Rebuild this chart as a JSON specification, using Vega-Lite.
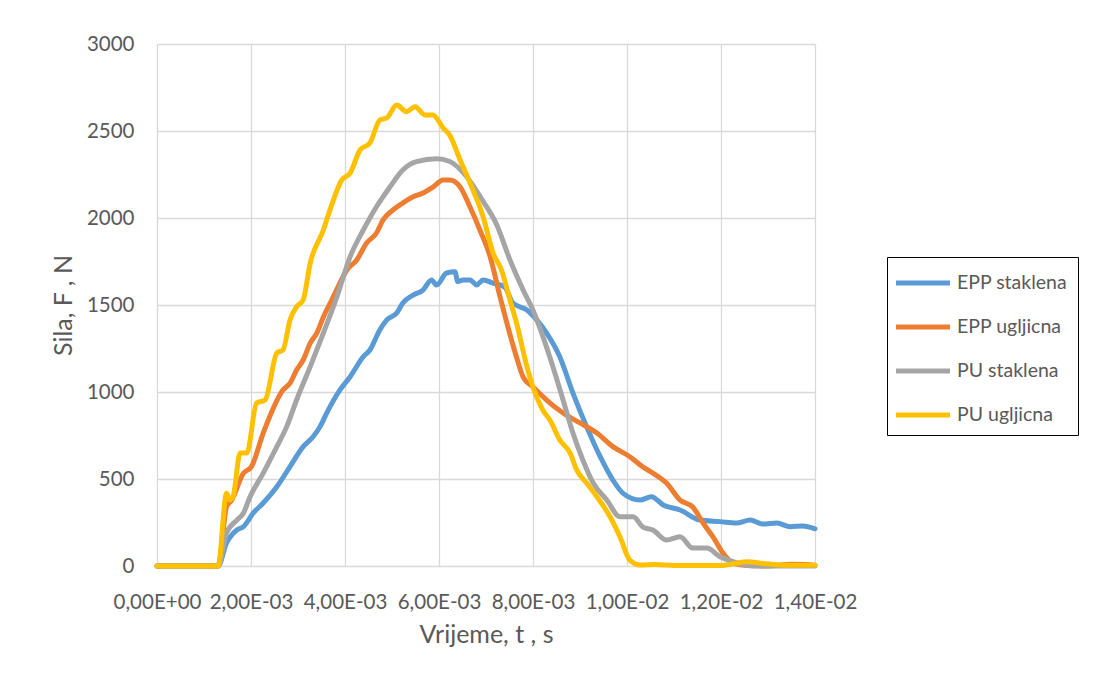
{
  "$schema": "https://vega.github.io/schema/vega-lite/v6.json",
  "autosize": {"type": "none"},
  "padding": {"left": 157, "top": 44, "right": 278, "bottom": 110},
  "width": 658,
  "height": 522,
  "background": "white",
  "config": {
    "font": "Lato",
    "view": {"stroke": null},
    "axis": {"labelColor": "#595959", "titleColor": "#595959", "labelFontSize": 20.5, "titleFontSize": 25, "titleFontWeight": "normal", "gridColor": "#d9d9d9", "gridWidth": 1.3, "domain": false, "ticks": false, "labelFont": "Lato", "titleFont": "Lato", "labelOverlap": false, "labelFlush": false, "labelBound": false}
  },
  "data": {"values": [
    {"s":"EPP staklena","t":0,"F":0},{"s":"EPP staklena","t":0.0013,"F":0},{"s":"EPP staklena","t":0.00148,"F":132},{"s":"EPP staklena","t":0.0017,"F":207},{"s":"EPP staklena","t":0.00184,"F":226},{"s":"EPP staklena","t":0.00205,"F":305},{"s":"EPP staklena","t":0.00226,"F":362},{"s":"EPP staklena","t":0.00255,"F":456},{"s":"EPP staklena","t":0.00283,"F":571},{"s":"EPP staklena","t":0.00311,"F":686},{"s":"EPP staklena","t":0.00332,"F":743},{"s":"EPP staklena","t":0.00347,"F":801},{"s":"EPP staklena","t":0.00361,"F":879},{"s":"EPP staklena","t":0.00389,"F":1011},{"s":"EPP staklena","t":0.00411,"F":1088},{"s":"EPP staklena","t":0.00439,"F":1203},{"s":"EPP staklena","t":0.00453,"F":1241},{"s":"EPP staklena","t":0.00474,"F":1356},{"s":"EPP staklena","t":0.00489,"F":1414},{"s":"EPP staklena","t":0.0051,"F":1454},{"s":"EPP staklena","t":0.00523,"F":1511},{"s":"EPP staklena","t":0.00545,"F":1557},{"s":"EPP staklena","t":0.00566,"F":1586},{"s":"EPP staklena","t":0.00584,"F":1644},{"s":"EPP staklena","t":0.00595,"F":1615},{"s":"EPP staklena","t":0.00616,"F":1684},{"s":"EPP staklena","t":0.00634,"F":1691},{"s":"EPP staklena","t":0.0064,"F":1634},{"s":"EPP staklena","t":0.00651,"F":1644},{"s":"EPP staklena","t":0.00666,"F":1644},{"s":"EPP staklena","t":0.0068,"F":1615},{"s":"EPP staklena","t":0.00694,"F":1644},{"s":"EPP staklena","t":0.00715,"F":1626},{"s":"EPP staklena","t":0.0074,"F":1603},{"s":"EPP staklena","t":0.00757,"F":1511},{"s":"EPP staklena","t":0.00787,"F":1471},{"s":"EPP staklena","t":0.00808,"F":1414},{"s":"EPP staklena","t":0.00829,"F":1339},{"s":"EPP staklena","t":0.00857,"F":1203},{"s":"EPP staklena","t":0.00885,"F":994},{"s":"EPP staklena","t":0.00914,"F":801},{"s":"EPP staklena","t":0.00943,"F":628},{"s":"EPP staklena","t":0.0097,"F":494},{"s":"EPP staklena","t":0.00991,"F":419},{"s":"EPP staklena","t":0.01028,"F":379},{"s":"EPP staklena","t":0.01052,"F":398},{"s":"EPP staklena","t":0.01077,"F":351},{"s":"EPP staklena","t":0.01113,"F":322},{"s":"EPP staklena","t":0.01155,"F":264},{"s":"EPP staklena","t":0.01198,"F":255},{"s":"EPP staklena","t":0.01233,"F":247},{"s":"EPP staklena","t":0.01262,"F":264},{"s":"EPP staklena","t":0.01289,"F":241},{"s":"EPP staklena","t":0.01319,"F":247},{"s":"EPP staklena","t":0.01347,"F":226},{"s":"EPP staklena","t":0.01374,"F":230},{"s":"EPP staklena","t":0.014,"F":214},

    {"s":"EPP ugljicna","t":0,"F":0},{"s":"EPP ugljicna","t":0.0013,"F":0},{"s":"EPP ugljicna","t":0.00148,"F":341},{"s":"EPP ugljicna","t":0.00159,"F":379},{"s":"EPP ugljicna","t":0.00184,"F":534},{"s":"EPP ugljicna","t":0.00201,"F":571},{"s":"EPP ugljicna","t":0.00226,"F":764},{"s":"EPP ugljicna","t":0.00268,"F":1011},{"s":"EPP ugljicna","t":0.00283,"F":1051},{"s":"EPP ugljicna","t":0.00297,"F":1126},{"s":"EPP ugljicna","t":0.00311,"F":1184},{"s":"EPP ugljicna","t":0.00326,"F":1281},{"s":"EPP ugljicna","t":0.0034,"F":1339},{"s":"EPP ugljicna","t":0.00354,"F":1431},{"s":"EPP ugljicna","t":0.00372,"F":1529},{"s":"EPP ugljicna","t":0.00382,"F":1586},{"s":"EPP ugljicna","t":0.00404,"F":1701},{"s":"EPP ugljicna","t":0.00425,"F":1759},{"s":"EPP ugljicna","t":0.00446,"F":1856},{"s":"EPP ugljicna","t":0.00467,"F":1914},{"s":"EPP ugljicna","t":0.00481,"F":1989},{"s":"EPP ugljicna","t":0.00502,"F":2046},{"s":"EPP ugljicna","t":0.00523,"F":2086},{"s":"EPP ugljicna","t":0.00545,"F":2122},{"s":"EPP ugljicna","t":0.00566,"F":2144},{"s":"EPP ugljicna","t":0.00587,"F":2178},{"s":"EPP ugljicna","t":0.00609,"F":2218},{"s":"EPP ugljicna","t":0.00623,"F":2218},{"s":"EPP ugljicna","t":0.00645,"F":2178},{"s":"EPP ugljicna","t":0.00666,"F":2063},{"s":"EPP ugljicna","t":0.00687,"F":1931},{"s":"EPP ugljicna","t":0.00709,"F":1776},{"s":"EPP ugljicna","t":0.0073,"F":1546},{"s":"EPP ugljicna","t":0.00744,"F":1400},{"s":"EPP ugljicna","t":0.00765,"F":1200},{"s":"EPP ugljicna","t":0.00779,"F":1086},{"s":"EPP ugljicna","t":0.008,"F":1029},{"s":"EPP ugljicna","t":0.00829,"F":954},{"s":"EPP ugljicna","t":0.00864,"F":879},{"s":"EPP ugljicna","t":0.009,"F":822},{"s":"EPP ugljicna","t":0.00936,"F":764},{"s":"EPP ugljicna","t":0.0097,"F":686},{"s":"EPP ugljicna","t":0.01006,"F":628},{"s":"EPP ugljicna","t":0.01034,"F":569},{"s":"EPP ugljicna","t":0.01055,"F":534},{"s":"EPP ugljicna","t":0.01084,"F":477},{"s":"EPP ugljicna","t":0.01113,"F":379},{"s":"EPP ugljicna","t":0.0114,"F":339},{"s":"EPP ugljicna","t":0.01162,"F":247},{"s":"EPP ugljicna","t":0.01183,"F":167},{"s":"EPP ugljicna","t":0.01204,"F":75},{"s":"EPP ugljicna","t":0.01226,"F":17},{"s":"EPP ugljicna","t":0.0126,"F":3},{"s":"EPP ugljicna","t":0.013,"F":0},{"s":"EPP ugljicna","t":0.0135,"F":10},{"s":"EPP ugljicna","t":0.0138,"F":8},{"s":"EPP ugljicna","t":0.014,"F":5},

    {"s":"PU staklena","t":0,"F":0},{"s":"PU staklena","t":0.0013,"F":0},{"s":"PU staklena","t":0.00148,"F":190},{"s":"PU staklena","t":0.0017,"F":264},{"s":"PU staklena","t":0.00184,"F":305},{"s":"PU staklena","t":0.00198,"F":398},{"s":"PU staklena","t":0.00226,"F":534},{"s":"PU staklena","t":0.00255,"F":686},{"s":"PU staklena","t":0.00276,"F":801},{"s":"PU staklena","t":0.00297,"F":954},{"s":"PU staklena","t":0.00326,"F":1146},{"s":"PU staklena","t":0.00354,"F":1339},{"s":"PU staklena","t":0.00382,"F":1540},{"s":"PU staklena","t":0.00411,"F":1778},{"s":"PU staklena","t":0.00439,"F":1931},{"s":"PU staklena","t":0.00467,"F":2065},{"s":"PU staklena","t":0.00496,"F":2180},{"s":"PU staklena","t":0.00523,"F":2276},{"s":"PU staklena","t":0.00552,"F":2324},{"s":"PU staklena","t":0.00595,"F":2340},{"s":"PU staklena","t":0.00623,"F":2325},{"s":"PU staklena","t":0.00659,"F":2237},{"s":"PU staklena","t":0.00694,"F":2095},{"s":"PU staklena","t":0.00723,"F":1960},{"s":"PU staklena","t":0.00751,"F":1759},{"s":"PU staklena","t":0.00779,"F":1586},{"s":"PU staklena","t":0.008,"F":1470},{"s":"PU staklena","t":0.00821,"F":1320},{"s":"PU staklena","t":0.00843,"F":1140},{"s":"PU staklena","t":0.00864,"F":954},{"s":"PU staklena","t":0.00885,"F":764},{"s":"PU staklena","t":0.00906,"F":609},{"s":"PU staklena","t":0.00928,"F":477},{"s":"PU staklena","t":0.00957,"F":379},{"s":"PU staklena","t":0.00985,"F":283},{"s":"PU staklena","t":0.01013,"F":283},{"s":"PU staklena","t":0.01034,"F":224},{"s":"PU staklena","t":0.01055,"F":207},{"s":"PU staklena","t":0.01084,"F":149},{"s":"PU staklena","t":0.01113,"F":168},{"s":"PU staklena","t":0.0114,"F":103},{"s":"PU staklena","t":0.0117,"F":103},{"s":"PU staklena","t":0.01198,"F":53},{"s":"PU staklena","t":0.01226,"F":25},{"s":"PU staklena","t":0.01268,"F":0},{"s":"PU staklena","t":0.014,"F":0},

    {"s":"PU ugljicna","t":0,"F":0},{"s":"PU ugljicna","t":0.0013,"F":0},{"s":"PU ugljicna","t":0.00148,"F":418},{"s":"PU ugljicna","t":0.00155,"F":379},{"s":"PU ugljicna","t":0.00162,"F":400},{"s":"PU ugljicna","t":0.00177,"F":649},{"s":"PU ugljicna","t":0.00191,"F":649},{"s":"PU ugljicna","t":0.00212,"F":937},{"s":"PU ugljicna","t":0.0023,"F":954},{"s":"PU ugljicna","t":0.00255,"F":1224},{"s":"PU ugljicna","t":0.00268,"F":1241},{"s":"PU ugljicna","t":0.00283,"F":1414},{"s":"PU ugljicna","t":0.00297,"F":1490},{"s":"PU ugljicna","t":0.00311,"F":1529},{"s":"PU ugljicna","t":0.00326,"F":1741},{"s":"PU ugljicna","t":0.00354,"F":1931},{"s":"PU ugljicna","t":0.00368,"F":2046},{"s":"PU ugljicna","t":0.00393,"F":2218},{"s":"PU ugljicna","t":0.00411,"F":2258},{"s":"PU ugljicna","t":0.00432,"F":2391},{"s":"PU ugljicna","t":0.00453,"F":2431},{"s":"PU ugljicna","t":0.00474,"F":2563},{"s":"PU ugljicna","t":0.00489,"F":2575},{"s":"PU ugljicna","t":0.0051,"F":2649},{"s":"PU ugljicna","t":0.00531,"F":2611},{"s":"PU ugljicna","t":0.00549,"F":2640},{"s":"PU ugljicna","t":0.0057,"F":2592},{"s":"PU ugljicna","t":0.00587,"F":2592},{"s":"PU ugljicna","t":0.00609,"F":2517},{"s":"PU ugljicna","t":0.00623,"F":2475},{"s":"PU ugljicna","t":0.00645,"F":2333},{"s":"PU ugljicna","t":0.00666,"F":2201},{"s":"PU ugljicna","t":0.00694,"F":2006},{"s":"PU ugljicna","t":0.00715,"F":1799},{"s":"PU ugljicna","t":0.00733,"F":1701},{"s":"PU ugljicna","t":0.00751,"F":1529},{"s":"PU ugljicna","t":0.00765,"F":1396},{"s":"PU ugljicna","t":0.00787,"F":1146},{"s":"PU ugljicna","t":0.008,"F":1029},{"s":"PU ugljicna","t":0.00821,"F":896},{"s":"PU ugljicna","t":0.00836,"F":839},{"s":"PU ugljicna","t":0.00857,"F":724},{"s":"PU ugljicna","t":0.00879,"F":649},{"s":"PU ugljicna","t":0.00893,"F":552},{"s":"PU ugljicna","t":0.00914,"F":477},{"s":"PU ugljicna","t":0.00936,"F":398},{"s":"PU ugljicna","t":0.00964,"F":283},{"s":"PU ugljicna","t":0.00985,"F":168},{"s":"PU ugljicna","t":0.01006,"F":34},{"s":"PU ugljicna","t":0.01028,"F":6},{"s":"PU ugljicna","t":0.0106,"F":8},{"s":"PU ugljicna","t":0.011,"F":3},{"s":"PU ugljicna","t":0.012,"F":3},{"s":"PU ugljicna","t":0.0123,"F":15},{"s":"PU ugljicna","t":0.01255,"F":25},{"s":"PU ugljicna","t":0.0129,"F":15},{"s":"PU ugljicna","t":0.0133,"F":5},{"s":"PU ugljicna","t":0.014,"F":5}
  ]},
  "mark": {"type": "line", "strokeWidth": 5, "strokeCap": "round", "strokeJoin": "round", "interpolate": "monotone"},
  "encoding": {
    "x": {"field": "t", "type": "quantitative", "scale": {"domain": [0, 0.014], "nice": false, "zero": false},
      "axis": {"values": [0, 0.002, 0.004, 0.006, 0.008, 0.01, 0.012, 0.014], "title": "Vrijeme, t , s", "labelPadding": 26, "titlePadding": 10,
        "labelExpr": "datum.value == 0 ? '0,00E+00' : (datum.value < 0.0099 ? replace(format(datum.value*1000, '.2f'), '.', ',') + 'E-03' : replace(format(datum.value*100, '.2f'), '.', ',') + 'E-02')"}},
    "y": {"field": "F", "type": "quantitative", "scale": {"domain": [0, 3000], "nice": false},
      "axis": {"values": [0, 500, 1000, 1500, 2000, 2500, 3000], "format": "d", "title": "Sila, F , N", "labelPadding": 23, "titlePadding": 10}},
    "color": {"field": "s", "type": "nominal",
      "scale": {"domain": ["EPP staklena", "EPP ugljicna", "PU staklena", "PU ugljicna"], "range": ["#5B9BD5", "#ED7D31", "#A5A5A5", "#FFC000"]},
      "legend": {"title": null, "orient": "none", "legendX": 730, "legendY": 213, "symbolType": "M-2,0H2", "symbolSize": 729, "symbolStrokeWidth": 5, "symbolOffset": 10, "labelFontSize": 19.5, "labelColor": "#595959", "labelFont": "Lato", "strokeColor": "black", "fillColor": "white", "padding": 10, "rowPadding": 18, "labelOffset": 18, "labelLimit": 200}},
    "order": {"field": "t", "type": "quantitative"}
  }
}
